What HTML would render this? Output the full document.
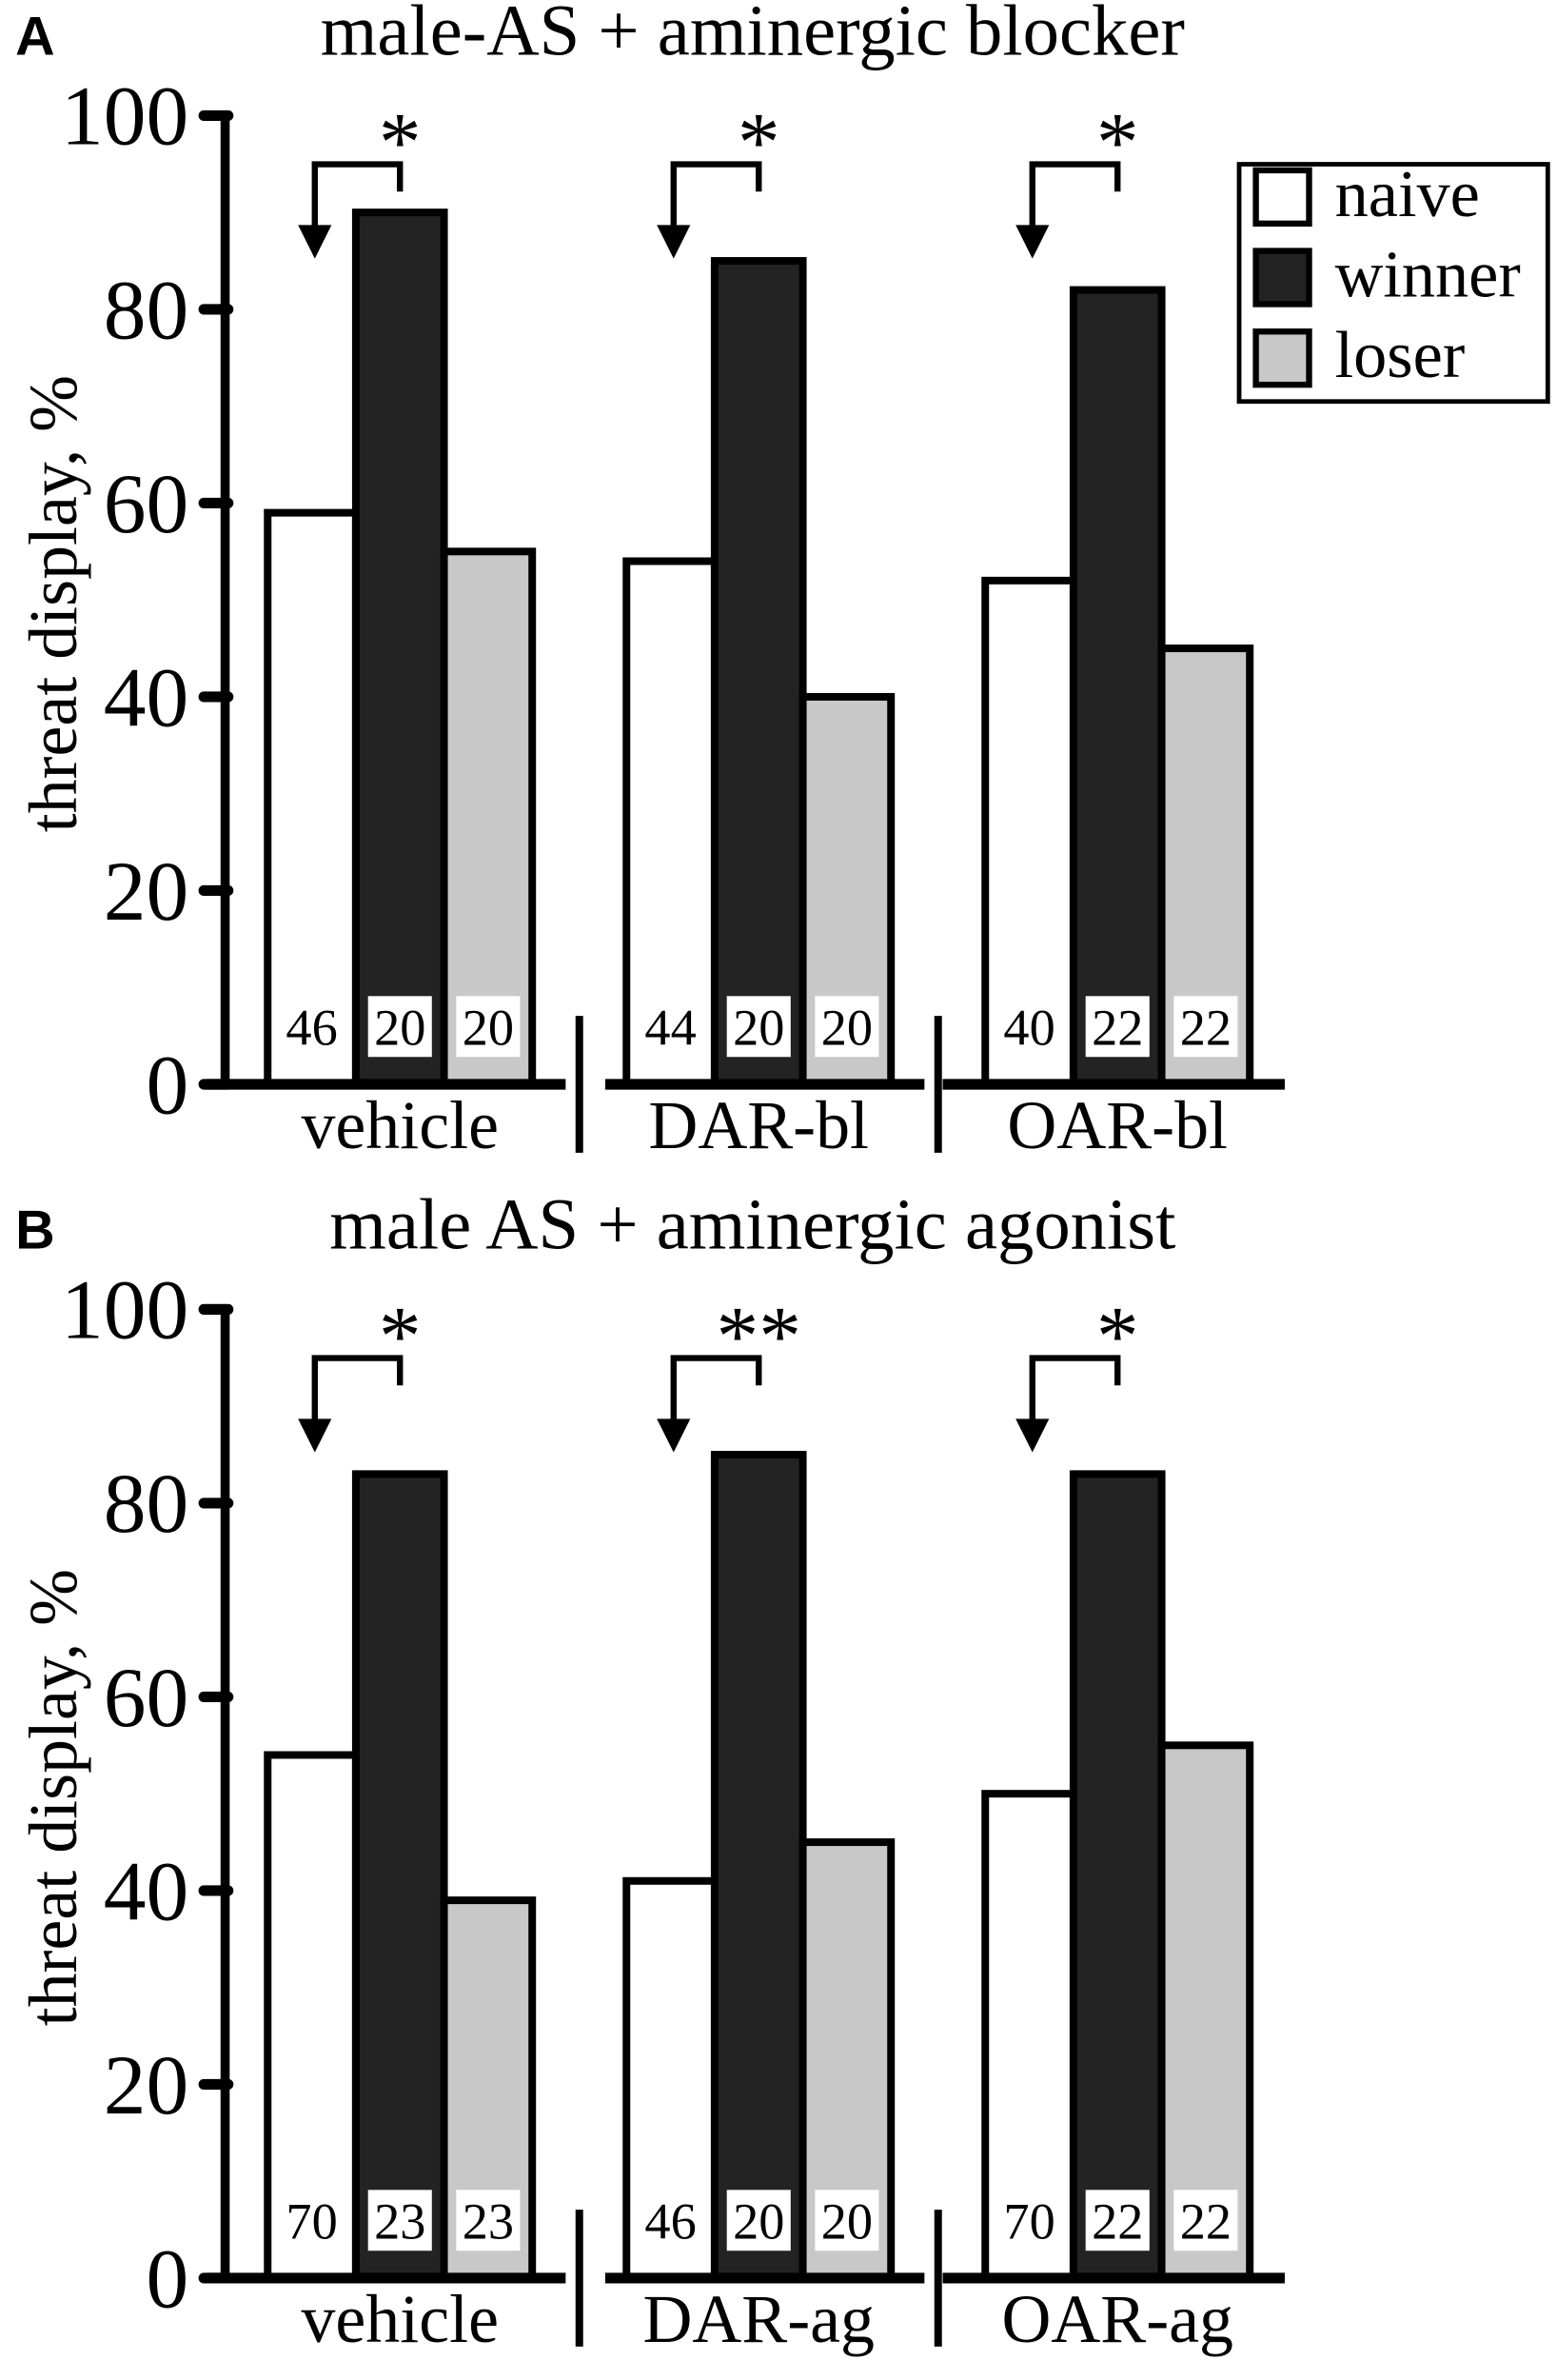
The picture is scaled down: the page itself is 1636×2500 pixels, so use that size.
<!DOCTYPE html>
<html><head><meta charset="utf-8"><style>
html,body{margin:0;padding:0;background:#fff}
svg{display:block}
</style></head><body>
<svg id="fig" width="1636" height="2500" viewBox="0 0 1024 1565" xmlns="http://www.w3.org/2000/svg"></svg>
<script>
const groupsA = ["vehicle","DAR-bl","OAR-bl"];
const groupsB = ["vehicle","DAR-ag","OAR-ag"];
const seriesNames = ["naive","winner","loser"];
const naiveA = [59,54,52];
const winnerA = [90,85,82];
const loserA = [55,40,45];
const naiveB = [54,41,50];
const winnerB = [83,85,83];
const loserB = [39,45,55];
const nA = [[46,20,20],[44,20,20],[40,22,22]];
const nB = [[70,23,23],[46,20,20],[70,22,22]];
const sigA = ["*","*","*"];
const sigB = ["*","**","*"];
const yTicks = [0,20,40,60,80,100];

const NS="http://www.w3.org/2000/svg";
const svg=document.getElementById('fig');
const fills=["#ffffff","#232323","#c8c8c8"];
const SERIF='"Liberation Serif", serif';
function mk(tag,attrs,parent,txt){const e=document.createElementNS(NS,tag);for(const k in attrs)e.setAttribute(k,attrs[k]);if(tag==='text'&&!attrs['font-family'])e.setAttribute('font-family',SERIF);if(txt!==undefined)e.textContent=txt;(parent||svg).appendChild(e);return e;}

function panel(off,letter,title,groups,series,ns,sigs,pid){
  const g=mk('g',{});
  
  
  const y0=713+off, y100=76+off;
  const ys=v=>y0-(y0-y100)*v/100;
  const groupX=[176,412,648];
  const bw=58;
  const bx=(gi,si)=>groupX[gi]+si*bw;
  const t1=mk('text',{x:10,y:36+off,'font-size':36,'font-weight':'bold','font-family':'"Liberation Sans", sans-serif'},g,letter);
  
  
  const t2=mk('text',{x:495,y:36+off,'font-size':48,'text-anchor':'middle'},g,title);
  
  
  const yt=mk('text',{x:0,y:0,'font-size':45,'text-anchor':'middle',transform:`translate(50,${397+off}) rotate(-90)`},g,'threat display, %');
  
  
  for(let gi=0;gi<3;gi++){
    for(let si=0;si<3;si++){
      const v=series[si][gi];
      const r=mk('rect',{x:bx(gi,si),y:ys(v),width:bw,height:y0-ys(v),fill:fills[si],stroke:'#000','stroke-width':5},g);
      
      
    }
    for(let si=0;si<3;si++){
      const cx=bx(gi,si)+bw/2;
      if(si>0){const b=mk('rect',{x:cx-21,y:y0-58,width:42,height:40,fill:'#fff'},g);
        
        }
      const t=mk('text',{x:cx,y:y0-26,'font-size':34,'text-anchor':'middle'},g,String(ns[gi][si]));
      
      
    }
    const ax=bx(gi,0)+31, wx=bx(gi,1)+29, by=108+off;
    const p=mk('path',{d:`M${ax},${by+45} L${ax},${by} L${wx},${by} L${wx},${by+18}`,fill:'none',stroke:'#000','stroke-width':4},g);
    
    
    const ah=mk('path',{d:`M${ax-11},${by+40} L${ax+11},${by+40} L${ax},${by+62} Z`,fill:'#000'},g);
    
    
    const st=mk('text',{x:wx,y:by+4,'font-size':56,'text-anchor':'middle'},g,sigs[gi]);
    
    
    const xl=mk('text',{x:groupX[gi]+87,y:y0+42,'font-size':45,'text-anchor':'middle'},g,groups[gi]);
    
    
  }
  const ya=mk('line',{x1:148,y1:y100,x2:148,y2:y0,stroke:'#000','stroke-width':6},g);
  
  
  [[136,372],[398,608],[620,845]].forEach(s=>{
    const l=mk('line',{x1:s[0],y1:y0,x2:s[1],y2:y0,stroke:'#000','stroke-width':7},g);
    
    
  });
  [381,617].forEach(x=>{
    const l=mk('line',{x1:x,y1:y0-45,x2:x,y2:y0+45,stroke:'#000','stroke-width':5},g);
    
    
  });
  yTicks.forEach(v=>{
    const l=mk('line',{x1:134,y1:ys(v),x2:150,y2:ys(v),stroke:'#000','stroke-width':7,'stroke-linecap':'round'},g);
    
    
    const t=mk('text',{x:124,y:ys(v)+19,'font-size':56,'text-anchor':'end'},g,String(v));
    
    
  });
  return g;
}
panel(0,'A','male-AS + aminergic blocker',groupsA,[naiveA,winnerA,loserA],nA,sigA,'panel-a');
panel(785,'B','male AS + aminergic agonist',groupsB,[naiveB,winnerB,loserB],nB,sigB,'panel-b');
const lg=mk('g',{});


mk('rect',{x:815,y:108,width:203,height:156,fill:'#fff',stroke:'#000','stroke-width':3},lg);
seriesNames.forEach((n,i)=>{
  const cy=127+i*53;
  const sw=mk('rect',{x:826,y:cy-15,width:35,height:35,fill:fills[i],stroke:'#000','stroke-width':4},lg);
  
  
  const t=mk('text',{x:878,y:cy+15,'font-size':44},lg,n);
  
  
});
</script>
</body></html>
